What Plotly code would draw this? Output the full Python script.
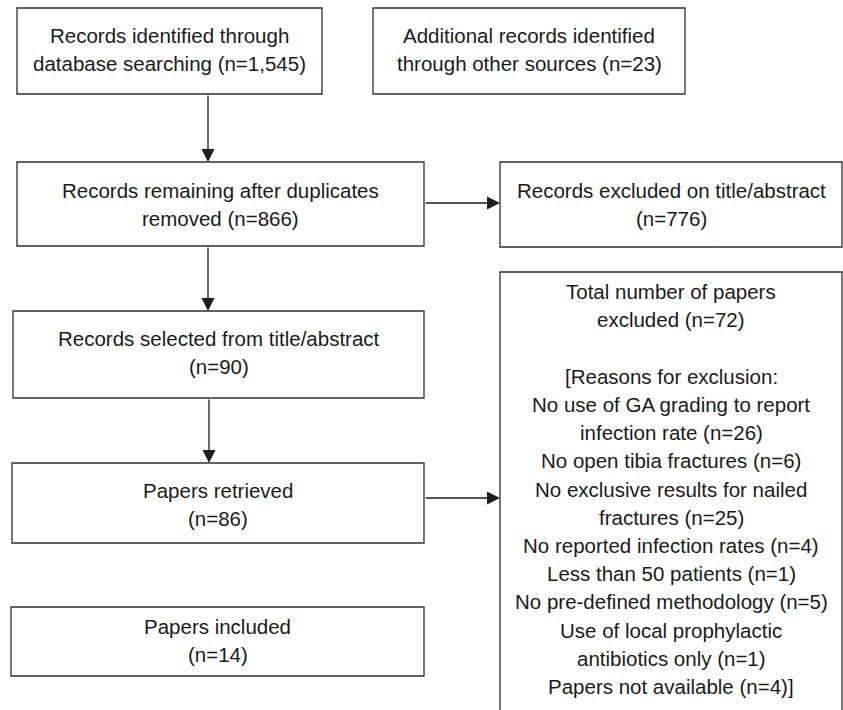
import plotly.graph_objects as go

# ---- content -------------------------------------------------------------
box_names = ["identified", "additional", "remaining", "excluded_ta",
             "selected", "retrieved", "included", "excluded_total"]
box_counts = ["1,545", "23", "866", "776", "90", "86", "14", "72"]
box_lines = [
    ["Records identified through", "database searching (n={})"],
    ["Additional records identified", "through other sources (n={})"],
    ["Records remaining after duplicates", "removed (n={})"],
    ["Records excluded on title/abstract", "(n={})"],
    ["Records selected from title/abstract", "(n={})"],
    ["Papers retrieved", "(n={})"],
    ["Papers included", "(n={})"],
    ["Total number of papers", "excluded (n={})"],
]
reason_labels = [
    "No use of GA grading to report|infection rate",
    "No open tibia fractures",
    "No exclusive results for nailed|fractures",
    "No reported infection rates",
    "Less than 50 patients",
    "No pre-defined methodology",
    "Use of local prophylactic|antibiotics only",
    "Papers not available",
]
reason_counts = [26, 6, 25, 4, 1, 5, 1, 4]

# ---- layout geometry (pixels, y downwards) --------------------------------
W, H = 843, 710
box_geom = {
    "identified":     (17, 8, 322, 94),
    "additional":     (373, 8, 685, 94),
    "remaining":      (17, 162, 424, 246),
    "excluded_ta":    (500, 162, 842, 247),
    "selected":       (13, 311, 424, 398),
    "retrieved":      (12, 463, 424, 543),
    "included":       (11, 607, 424, 676),
    "excluded_total": (500, 272, 842, 716),
}
first_baseline = {
    "identified": 42, "additional": 42, "remaining": 197, "excluded_ta": 197,
    "selected": 345, "retrieved": 497, "included": 633, "excluded_total": 298.5,
}
arrows = [  # (x_from, y_from, x_to, y_to)
    (208, 94, 208, 162),
    (424, 203, 500, 203),
    (208, 246, 208, 311),
    (209, 398, 209, 463),
    (424, 498, 500, 498),
]
FS = 20.5
LINE = 28.2
FONT = "Liberation Sans, Arial, Helvetica, sans-serif"
TXT = "#1a1a1a"
EDGE = "#303030"

fig = go.Figure()
shapes, annos = [], []


def add_lines(lines, cx, base):
    for i, t in enumerate(lines):
        if t == "":
            continue
        annos.append(dict(x=cx, y=base + i * LINE - 0.33 * FS, xref="x", yref="y",
                          text=t, showarrow=False, xanchor="center", yanchor="middle",
                          font=dict(family=FONT, size=FS, color=TXT)))


for name, cnt, lines in zip(box_names, box_counts, box_lines):
    x0, y0, x1, y1 = box_geom[name]
    shapes.append(dict(type="rect", xref="x", yref="y", x0=x0, y0=y0, x1=x1, y1=y1,
                       line=dict(color=EDGE, width=1.3), fillcolor="rgba(0,0,0,0)"))
    txt = [l.format(cnt) for l in lines]
    if name == "excluded_total":
        reason_txt = ["[Reasons for exclusion:"]
        for lab, c in zip(reason_labels, reason_counts):
            parts = lab.split("|")
            parts[-1] = parts[-1] + " (n={})".format(c)
            reason_txt.extend(parts)
        reason_txt[-1] = reason_txt[-1] + "]"
        txt = txt + [""] + reason_txt
    add_lines(txt, (x0 + x1) / 2, first_baseline[name])

for xa, ya, xb, yb in arrows:
    annos.append(dict(x=xb, y=yb, ax=xa, ay=ya, xref="x", yref="y", axref="x", ayref="y",
                      text="", showarrow=True, arrowhead=2, arrowsize=2.0, arrowwidth=1.3,
                      arrowcolor="#1e1e1e", standoff=0, startstandoff=0))

fig.update_layout(
    width=W, height=H, margin=dict(l=0, r=0, t=0, b=0),
    paper_bgcolor="white", plot_bgcolor="white",
    xaxis=dict(range=[0, W], visible=False, fixedrange=True),
    yaxis=dict(range=[H, 0], visible=False, fixedrange=True),
    shapes=shapes, annotations=annos, showlegend=False,
)
fig.write_html("out.html", config={"displayModeBar": False},
               post_script="document.body.style.margin='0';")
